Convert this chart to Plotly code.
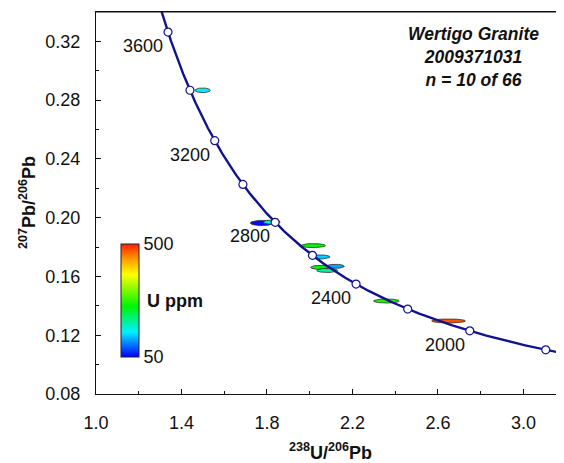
import numpy as np
import plotly.graph_objects as go
from plotly.colors import sample_colorscale

# ---- data ----
spot_x = [1.499, 1.775, 1.822, 2.017, 2.045, 2.048, 2.119, 2.082, 2.359, 2.650]
spot_y = [0.2867, 0.1964, 0.1970, 0.1810, 0.1733, 0.1662, 0.1669, 0.1641, 0.1433, 0.1297]
spot_sx = [0.036, 0.053, 0.040, 0.057, 0.050, 0.044, 0.043, 0.049, 0.060, 0.079]
spot_sy = [0.0016, 0.0018, 0.0014, 0.0014, 0.0014, 0.0014, 0.0014, 0.0014, 0.0014, 0.0014]
spot_u = [150, 55, 145, 245, 135, 250, 120, 185, 265, 475]

marker_ages = [1800, 2000, 2200, 2400, 2600, 2800, 3000, 3200, 3400, 3600]
label_ages = [2000, 2400, 2800, 3200, 3600]
curve_age_min, curve_age_max = 1650, 3800

x_ticks = [1.0, 1.4, 1.8, 2.2, 2.6, 3.0]
y_ticks = [0.08, 0.12, 0.16, 0.20, 0.24, 0.28, 0.32]
u_min, u_max = 50, 500

# decay constants (per Ma) for the Tera-Wasserburg concordia
L238 = 1.55125e-4
L235 = 9.8485e-4
U85 = 137.88


def concordia(t):
    t = np.asarray(t, dtype=float)
    e8 = np.exp(L238 * t) - 1
    e5 = np.exp(L235 * t) - 1
    return 1.0 / e8, e5 / e8 / U85


cscale = [[0.0, "rgb(0,0,255)"], [0.22, "rgb(0,240,255)"], [0.45, "rgb(0,245,0)"],
          [0.73, "rgb(255,255,0)"], [0.86, "rgb(255,160,0)"], [1.0, "rgb(255,30,0)"]]

FONT = "Liberation Sans, Arial, sans-serif"
NAVY = "#12128C"

fig = go.Figure()

# error ellipses
th = np.linspace(0, 2 * np.pi, 73)
for x0, y0, a, b, u in zip(spot_x, spot_y, spot_sx, spot_sy, spot_u):
    col = sample_colorscale(cscale, [(u - u_min) / (u_max - u_min)])[0]
    fig.add_trace(go.Scatter(
        x=x0 + a * np.cos(th), y=y0 + b * np.sin(th), mode="lines",
        fill="toself", fillcolor=col, line=dict(color="#303030", width=0.8),
        hoverinfo="skip", showlegend=False))

# colour bar carrier
fig.add_trace(go.Scatter(
    x=spot_x, y=spot_y, mode="markers", showlegend=False, hoverinfo="skip",
    marker=dict(size=0.1, opacity=0, color=spot_u, cmin=u_min, cmax=u_max,
                colorscale=cscale, showscale=True,
                colorbar=dict(x=0.0534, xanchor="left", xref="paper",
                              y=0.2453, yanchor="middle", yref="paper",
                              thicknessmode="pixels", thickness=18,
                              lenmode="pixels", len=113,
                              xpad=0, ypad=0, outlinewidth=1, outlinecolor="#222",
                              tickvals=[u_min, u_max], ticktext=[str(u_min), str(u_max)],
                              ticks="",
                              tickfont=dict(family=FONT, size=18, color="#111")))))

# concordia curve
cx, cy = concordia(np.arange(curve_age_min, curve_age_max + 1, 5))
fig.add_trace(go.Scatter(x=cx, y=cy, mode="lines", line=dict(color=NAVY, width=2.4),
                         hoverinfo="skip", showlegend=False))
mx, my = concordia(marker_ages)
fig.add_trace(go.Scatter(x=mx, y=my, mode="markers", hoverinfo="skip", showlegend=False,
                         marker=dict(symbol="circle", size=8, color="white",
                                     line=dict(color=NAVY, width=1.2))))

annotations = []
lx, ly = concordia(label_ages)
for a, xx, yy in zip(label_ages, lx, ly):
    annotations.append(dict(x=xx, y=yy, xref="x", yref="y", text=str(a), showarrow=False,
                            xshift=-25, yshift=-14,
                            font=dict(family=FONT, size=18, color="#111")))

annotations.append(dict(x=0.807, y=0.881, xref="paper", yref="paper", xanchor="center",
                        yanchor="middle", showarrow=False,
                        text="<b><i>Wertigo Granite<br>2009371031<br>n = 10 of 66</i></b>",
                        font=dict(family=FONT, size=17.5, color="#111")))
annotations.append(dict(x=(145 - 96) / 468, y=(394 - 301) / 382, xref="paper", yref="paper",
                        xanchor="left", yanchor="middle", showarrow=False,
                        text="<b>U ppm</b>", font=dict(family=FONT, size=18, color="#111")))
annotations.append(dict(x=0.5, y=(394 - 451) / 382, xref="paper", yref="paper",
                        xanchor="center", yanchor="middle", showarrow=False,
                        text="<b><sup>238</sup>U/<sup>206</sup>Pb</b>",
                        font=dict(family=FONT, size=18, color="#111")))
annotations.append(dict(x=(27 - 96) / 468, y=0.5, xref="paper", yref="paper",
                        xanchor="center", yanchor="middle", showarrow=False, textangle=-90,
                        text="<b><sup>207</sup>Pb/<sup>206</sup>Pb</b>",
                        font=dict(family=FONT, size=18, color="#111")))

axis_common = dict(showgrid=False, zeroline=False, showline=True, linecolor="#111",
                   linewidth=1.2, ticks="inside", ticklen=5, tickwidth=1, tickcolor="#111",
                   automargin=False,
                   tickfont=dict(family=FONT, size=18, color="#111"))

# the page body adds an 8 px offset; margins compensate so the plot area lands
# at x 96..564, y 12..394 of the window
fig.update_layout(
    width=564, height=463, margin=dict(l=88, r=8, t=4, b=77),
    paper_bgcolor="white", plot_bgcolor="white", showlegend=False,
    annotations=annotations,
    shapes=[dict(type="line", xref="paper", yref="paper", x0=0, x1=1, y0=1, y1=1,
                 line=dict(color="#111", width=1.2))],
    xaxis=dict(range=[1.0, 3.19], tickvals=x_ticks, ticktext=[f"{v:.1f}" for v in x_ticks],
               mirror=True, ticklabelstandoff=12,
               minor=dict(dtick=0.2, tick0=1.0, ticks="inside", ticklen=3, tickcolor="#111"),
               **axis_common),
    yaxis=dict(range=[0.08, 0.34], tickvals=y_ticks, ticktext=[f"{v:.2f}" for v in y_ticks],
               ticklabelstandoff=11,
               minor=dict(dtick=0.02, tick0=0.08, ticks="inside", ticklen=3, tickcolor="#111"),
               **axis_common),
)

fig.write_html("out.html")
